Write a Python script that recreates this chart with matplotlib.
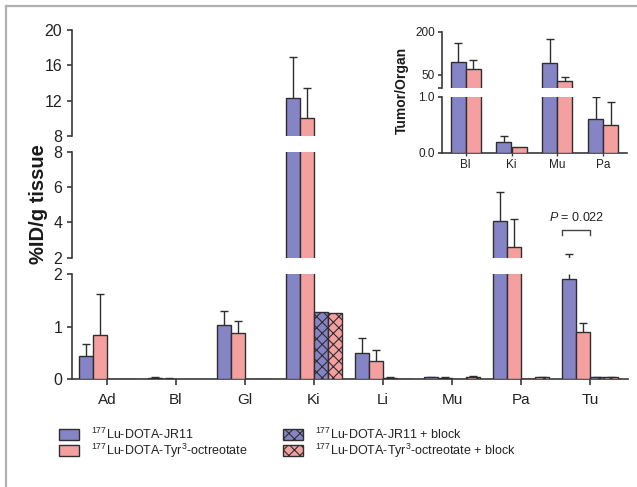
import numpy as np
import matplotlib
matplotlib.use('Agg')
import matplotlib.pyplot as plt
from matplotlib.patches import Rectangle
from matplotlib.lines import Line2D

plt.rcParams['font.family'] = ['Liberation Sans', 'DejaVu Sans']
plt.rcParams['mathtext.fontset'] = 'custom'
plt.rcParams['mathtext.rm'] = 'Liberation Sans'
plt.rcParams['mathtext.it'] = 'Liberation Sans:italic'
plt.rcParams['hatch.linewidth'] = 0.8

# ---------------- data ----------------
categories = ['Ad', 'Bl', 'Gl', 'Ki', 'Li', 'Mu', 'Pa', 'Tu']
jr11 = [0.44, 0.03, 1.03, 12.3, 0.50, 0.04, 4.10, 1.92]
jr11_err = [0.24, 0.01, 0.28, 4.6, 0.29, 0.01, 1.65, 0.28]
tyr = [0.85, 0.015, 0.88, 10.0, 0.34, 0.03, 2.58, 0.90]
tyr_err = [0.77, 0.005, 0.24, 3.4, 0.22, 0.01, 1.63, 0.17]
jr11_block = [0.005, np.nan, 0.005, 1.28, 0.03, np.nan, 0.005, 0.04]
jr11_block_err = [0.0, 0.0, 0.0, 0.0, 0.005, 0.0, 0.0, 0.005]
tyr_block = [0.005, np.nan, 0.01, 1.26, 0.01, 0.05, 0.04, 0.04]
tyr_block_err = [0.0, 0.0, 0.0, 0.0, 0.0, 0.005, 0.005, 0.005]

top_ticks = [8, 12, 16, 20]
mid_ticks = [2, 4, 6, 8]
bot_ticks = [0, 1, 2]

inset_cats = ['Bl', 'Ki', 'Mu', 'Pa']
ratio_jr11 = [94, 0.19, 91, 0.60]
ratio_jr11_err = [67, 0.10, 83, 0.39]
ratio_tyr = [69, 0.10, 30, 0.49]
ratio_tyr_err = [33, 0.0, 14, 0.41]

series_labels = [r'$^{177}$Lu-DOTA-JR11',
                 r'$^{177}$Lu-DOTA-Tyr$^{3}$-octreotate',
                 r'$^{177}$Lu-DOTA-JR11 + block',
                 r'$^{177}$Lu-DOTA-Tyr$^{3}$-octreotate + block']

# ---------------- style ----------------
BLUE = '#8585c6'
RED = '#f5a0a0'
EDGE = '#2e2e2e'
SPINE = '#3a3a3a'

W, H = 637, 487
fig = plt.figure(figsize=(W / 100, H / 100), dpi=100)


def px_axes(x0, y0, x1, y1):
    return fig.add_axes([x0 / W, 1 - y1 / H, (x1 - x0) / W, (y1 - y0) / H])


def style_axis(ax, bottom=False, ticklen=3.5, fs=11.5, pad=3.6):
    for s in ['top', 'right']:
        ax.spines[s].set_visible(False)
    ax.spines['left'].set_color(SPINE)
    ax.spines['left'].set_linewidth(1.2)
    ax.spines['bottom'].set_color(SPINE)
    ax.spines['bottom'].set_linewidth(1.2)
    if not bottom:
        ax.spines['bottom'].set_visible(False)
        ax.tick_params(axis='x', bottom=False, labelbottom=False)
    ax.tick_params(axis='y', length=ticklen, width=1.2, color=SPINE,
                   labelsize=fs, pad=pad, labelcolor='#222222')
    ax.patch.set_alpha(0)


def draw_series(ax, x, vals, errs, width, color, lim, hatch=None):
    vals = np.asarray(vals, dtype=float)
    errs = np.asarray(errs, dtype=float)
    m = ~np.isnan(vals)
    ax.bar(x[m], vals[m], width=width, color=color, edgecolor=EDGE,
           linewidth=1.0, hatch=hatch, zorder=3)
    tops = vals + errs
    # whisker (upper only) where it reaches into this segment
    me = m & (errs > 0) & (tops > lim[0]) & (vals < lim[1])
    if me.any():
        ax.vlines(x[me], np.maximum(vals[me], lim[0]), np.minimum(tops[me], lim[1]),
                  colors=EDGE, linewidth=1.0, zorder=2)
    mc = m & (errs > 0) & (tops >= lim[0]) & (tops <= lim[1])
    if mc.any():
        ax.plot(x[mc], tops[mc], linestyle='none', marker='_', markersize=6,
                markeredgewidth=1.0, color=EDGE, zorder=2)


# ---------------- main broken axis ----------------
x = np.arange(len(categories))
bw = 0.2
xl = ((72 - 107) / 69, (628 - 107) / 69)

ax_top = px_axes(72, 30, 628, 136)
ax_mid = px_axes(72, 152, 628, 257.7)
ax_bot = px_axes(72, 274.3, 628, 379.3)

for ax, lim, ticks in [(ax_top, (8, 20), top_ticks),
                       (ax_mid, (2, 8), mid_ticks),
                       (ax_bot, (0, 2), bot_ticks)]:
    draw_series(ax, x - 1.5 * bw, jr11, jr11_err, bw, BLUE, lim)
    draw_series(ax, x - 0.5 * bw, tyr, tyr_err, bw, RED, lim)
    draw_series(ax, x + 0.5 * bw, jr11_block, jr11_block_err, bw, BLUE, lim, 'xxx')
    draw_series(ax, x + 1.5 * bw, tyr_block, tyr_block_err, bw, RED, lim, 'xxx')
    ax.set_xlim(*xl)
    ax.set_ylim(*lim)
    ax.set_yticks(ticks)
    style_axis(ax, bottom=(ax is ax_bot))

ax_bot.set_xticks(x)
ax_bot.set_xticklabels(categories)
ax_bot.tick_params(axis='x', length=4, width=1.2, color=SPINE,
                   labelsize=11, pad=6, labelcolor='#222222')

# significance bracket (Tu: JR11 vs Tyr3)
xb0 = x[-1] - 2 * bw
xb1 = x[-1]
ax_mid.plot([xb0, xb0, xb1, xb1], [3.3, 3.6, 3.6, 3.3], color='#444444',
            lw=1.0, clip_on=False)
ax_mid.text((xb0 + xb1) / 2, 4.3, r'$\it{P}$ = 0.022', ha='center',
            va='center', fontsize=9, color='#222222')

fig.text(38 / W, 1 - 204 / H, '%ID/g tissue', rotation=90, ha='center',
         va='center', fontsize=14.5, fontweight='bold', color='#1a1a1a')

# ---------------- inset ----------------
xi = np.arange(len(inset_cats))
ibw = 0.33
ixl = ((441.7 - 465.7) / 45.8, (626.7 - 465.7) / 45.8)

in_top = px_axes(441.7, 31.7, 626.7, 87.7)
in_bot = px_axes(441.7, 96.7, 626.7, 152.7)
for ax, lim, ticks, labels in [(in_top, (5, 200), [5, 50, 200], ['', '50', '200']),
                               (in_bot, (0, 1), [0, 1], ['0.0', '1.0'])]:
    draw_series(ax, xi - 0.5 * ibw, ratio_jr11, ratio_jr11_err, ibw, BLUE, lim)
    draw_series(ax, xi + 0.5 * ibw, ratio_tyr, ratio_tyr_err, ibw, RED, lim)
    ax.set_xlim(*ixl)
    ax.set_ylim(*lim)
    ax.set_yticks(ticks)
    ax.set_yticklabels(labels)
    style_axis(ax, bottom=(ax is in_bot), ticklen=3, fs=8.5, pad=2)

in_bot.set_xticks(xi)
in_bot.set_xticklabels(inset_cats)
in_bot.tick_params(axis='x', length=2, width=1.0, color=SPINE, labelsize=8.5,
                   pad=2.5, labelcolor='#222222')

fig.text(401.7 / W, 1 - 90 / H, 'Tumor/Organ', rotation=90, ha='center',
         va='center', fontsize=10, fontweight='bold', color='#1a1a1a')

# ---------------- legend ----------------
leg_items = [(59, 429, BLUE, None, 91),
             (59, 445, RED, None, 91),
             (283, 429, BLUE, 'xxx', 315),
             (283, 445, RED, 'xxx', 315)]
for (px, py, col, hat, tx), lab in zip(leg_items, series_labels):
    r = Rectangle((px / W, 1 - (py + 11) / H), 20 / W, 11 / H,
                  transform=fig.transFigure, facecolor=col, edgecolor=EDGE,
                  linewidth=1.0, hatch=hat)
    fig.add_artist(r)
    fig.text(tx / W, 1 - (py + 5.5) / H, lab, ha='left', va='center',
             fontsize=9, color='#222222')

# ---------------- frame ----------------
fig.add_artist(Line2D([6 / W, 1.0], [1 - 6 / H, 1 - 6 / H],
                      transform=fig.transFigure, color='#b0b0b0', lw=1.6))
fig.add_artist(Line2D([6 / W, 6 / W], [1 - 6 / H, 0.0],
                      transform=fig.transFigure, color='#b0b0b0', lw=1.6))

fig.savefig('out.png', dpi=100)
